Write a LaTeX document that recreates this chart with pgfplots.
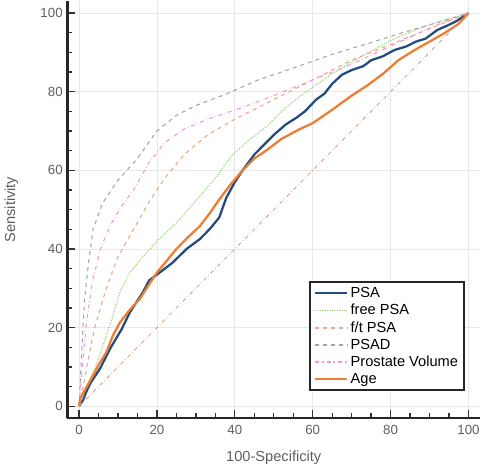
\documentclass[border=0pt]{standalone}
\usepackage{pgfplots}
\pgfplotsset{compat=1.18}
\usepackage{fontspec}
\setmainfont{Liberation Sans}
\definecolor{psa}{RGB}{35,75,125}
\definecolor{age}{RGB}{237,125,49}
\definecolor{fpsa}{RGB}{150,205,120}
\definecolor{ftpsa}{RGB}{240,165,135}
\definecolor{psad}{RGB}{165,165,165}
\definecolor{pv}{RGB}{240,150,220}
\definecolor{txt}{RGB}{95,95,95}
\begin{document}
\begin{tikzpicture}
\begin{axis}[
  width=310.5pt, height=313.5pt, scale only axis,
  xmin=-3, xmax=103, ymin=-3, ymax=103,
  axis lines*=left,
  axis line style={line width=1.9pt, color=black!85},
  xtick={0,20,...,100}, ytick={0,20,...,100},
  minor tick num=3,
  major tick length=6pt, minor tick length=3.5pt,
  tick style={color=black!80, line width=1pt},
  xmajorgrids, ymajorgrids,
  grid style={gray!18, line width=0.5pt},
  tick label style={font=\fontsize{10}{11}\selectfont, color=txt},
  xticklabel style={yshift=-1.5pt},
  /pgf/number format/assume math mode=true,
  xlabel={100-Specificity}, ylabel={Sensitivity},
  label style={font=\fontsize{11}{12}\selectfont, color=txt},
  xlabel style={yshift=-5.5pt},
  ylabel style={yshift=10pt},
  legend style={at={(axis cs:99.2,3.8)}, anchor=south east,
    draw=black!85, line width=1.5pt, font=\fontsize{11}{12}\selectfont,
    row sep=0pt, inner xsep=3pt, inner ysep=2pt,
    nodes={inner sep=1.8pt}},
  legend cell align=left,
  legend image code/.code={\draw[#1, line width=1.3pt] (0cm,0cm) -- (0.85cm,0cm);},
]
\addplot[psa, line width=1.7pt] coordinates {
(0,0)(1,1.5)(2,4)(3,6)(5.4,9.6)(8,14.7)(11,19.7)(13,23.8)(16.4,29)(18,32)
(20.7,34)(24,36.5)(27.6,40)(31,42.5)(33.5,45)(36,48)(37.8,53)(40,57)(42,60)
(45,64)(48,67)(50,69)(53,71.6)(56,73.5)(58,75)(60.9,78)(63,79.5)(65,82)
(67.5,84.3)(70,85.5)(73,86.5)(75,88)(78,89)(81,90.6)(84,91.5)(86.4,92.7)
(89,93.5)(92,95.7)(95,97)(97,98)(100,100)};
\addlegendentry{PSA}
\addplot[fpsa, densely dotted, line width=0.8pt] coordinates {
(0,0)(2,5)(4.6,11)(7,18)(8.7,23)(10.5,29)(13,34)(16.4,38)(20,42)(25,46.6)
(31,53.4)(35,58)(39.4,64)(44,68)(48,71)(52,75)(56.5,78.7)(65,84.6)(73.6,89.6)
(82,94)(90.5,97.2)(100,100)};
\addlegendentry{free PSA}
\addplot[ftpsa, dashed, line width=0.8pt] coordinates {
(0,0)(2,10)(4,20)(7,30)(10,38)(14,45)(18,52)(22,58)(27,64)(33,69)(40,73)
(50,78)(60,83)(70,88)(80,92)(90,96)(100,100)};
\addlegendentry{f/t PSA}
\addplot[psad, dashed, line width=0.8pt] coordinates {
(0,0)(0.5,10)(1,20)(1.5,28)(2.5,37)(3.6,45)(6,51.6)(10,57.5)(15,63)(20,70)
(25,74)(30,76.5)(38,79.5)(46,83)(55,86)(65,89.5)(75,92.5)(82,94.7)(90,97)(100,100)};
\addlegendentry{PSAD}
\addplot[pv, dash dot, line width=0.8pt] coordinates {
(0,0)(1,12)(2,22)(3.5,32)(5.5,40)(8,46)(11,51)(14,55)(18,62)(22,67)(27,70.5)
(33,73)(42,76)(50,79)(60,83)(70,87)(82,92.5)(92,97)(100,100)};
\addlegendentry{Prostate Volume}
\addplot[age, line width=1.7pt] coordinates {
(0,0)(0.3,2)(2,5)(3.6,7.8)(5,10.5)(7,13.7)(8.7,18)(10.5,21.3)(13,24.5)
(15.6,27.3)(18,31)(20,34)(22.5,37)(25,40)(28,43)(31,45.8)(33.5,49)(36,52.6)
(39,56.5)(42,60)(45,63)(48,65)(52,68)(56.5,70.4)(60,72)(65,75.4)(70,79)
(73.6,81.3)(78,84.5)(82,88)(86,90.5)(90.5,93)(94,95)(97.4,97.2)(100,100)};
\addlegendentry{Age}
\addplot[ftpsa!70!gray, dash dot, line width=0.6pt, forget plot] coordinates {(0,0)(100,100)};
\path (rel axis cs:0,0) ++(-51pt,-40.5pt);
\path (rel axis cs:1,1) ++(1.5pt,3pt);
\end{axis}
\end{tikzpicture}
\end{document}
